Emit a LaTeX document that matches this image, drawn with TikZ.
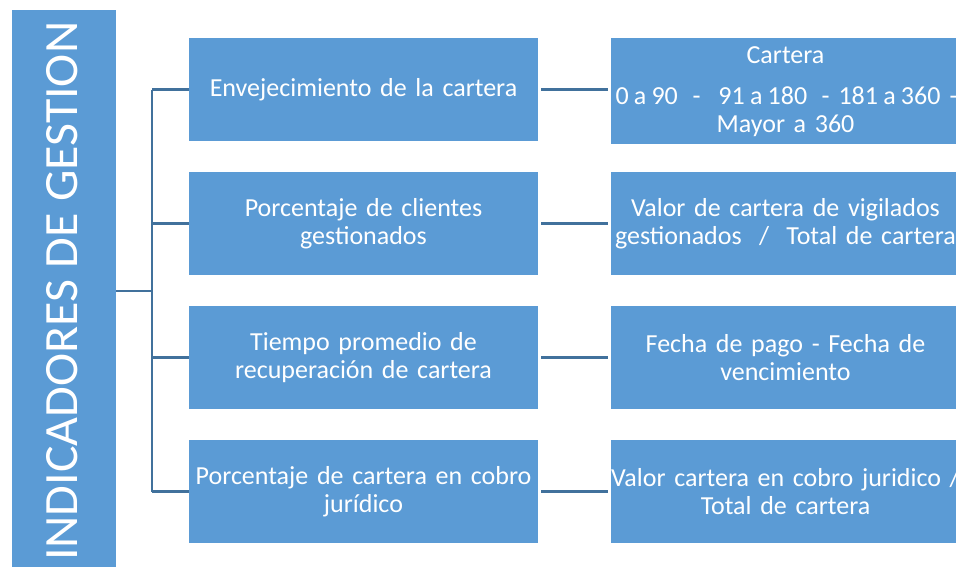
\documentclass[tikz,border=0pt]{standalone}
\usepackage{fontspec}
\setmainfont{Carlito}
\definecolor{boxblue}{HTML}{5B9BD5}
\definecolor{lineblue}{HTML}{41719C}
\begin{document}
\begin{tikzpicture}[x=1pt,y=-1pt,
  box/.style={fill=boxblue,draw=none,minimum width=349pt,minimum height=103pt,inner sep=0pt,
     text=white,font=\fontsize{26}{28.5}\selectfont,align=center,text width=349pt},
  conn/.style={draw=lineblue,line width=2.6pt}]
\useasboundingbox (0,0) rectangle (956,566);
\clip (0,0) rectangle (956,566);
\node[fill=boxblue,minimum width=104pt,minimum height=560pt,inner sep=0pt,anchor=north west] (bar) at (12,10) {};
\node[rotate=90,text=white,inner sep=0pt] (title) at (62.4,291.3) {\resizebox{539pt}{31pt}{INDICADORES DE GESTION}};
\node[box] (m1) at (363.5,89.5) {Envejecimiento de la cartera};
\node[box] (m2) at (363.5,223.5) {Porcentaje de clientes\\gestionados};
\node[box] (m3) at (363.5,357.5) {Tiempo promedio de\\recuperación de cartera};
\node[box] (m4) at (363.5,491.5) {Porcentaje de cartera en cobro\\jurídico};
\node[box,minimum height=103pt] (r1) at (785.5,89.5) {};
\node[box,text width=349pt] (r1t) at (785.5,92) {Cartera\\[12pt]\makebox[0pt]{\spaceskip=5.2pt\makebox[340pt][l]{\rlap{0 a 90}\hspace{77pt}\rlap{-}\hspace{26pt}\rlap{91 a 180}\hspace{103pt}\rlap{-}\hspace{17pt}\rlap{181 a 360}\hspace{111pt}\rlap{-}}}\\Mayor a 360};
\node[box] (r2) at (785.5,223.5) {\makebox[0pt]{Valor de cartera de vigilados}\\\makebox[0pt]{gestionados\ \ /\ \ Total de cartera}};
\node[box] (r3) at (785.5,357.5) {Fecha de pago - Fecha de\\vencimiento};
\node[box] (r4) at (785.5,491.5) {\makebox[0pt]{Valor cartera en cobro juridico /}\\Total de cartera};
\coordinate (j) at (152,291);
\draw[conn] (bar.east |- j) -- (j);
\draw[conn] (152,89.5) -- (152,491.5);
\foreach \n in {m1,m2,m3,m4}{
  \draw[conn] (152,0 |- \n.west) -- (\n.west);
}
\foreach \a/\b in {m1/r1,m2/r2,m3/r3,m4/r4}{
  \draw[conn] ([xshift=3pt]\a.east) -- ([xshift=-3pt]\b.west);
}
\end{tikzpicture}
\end{document}
